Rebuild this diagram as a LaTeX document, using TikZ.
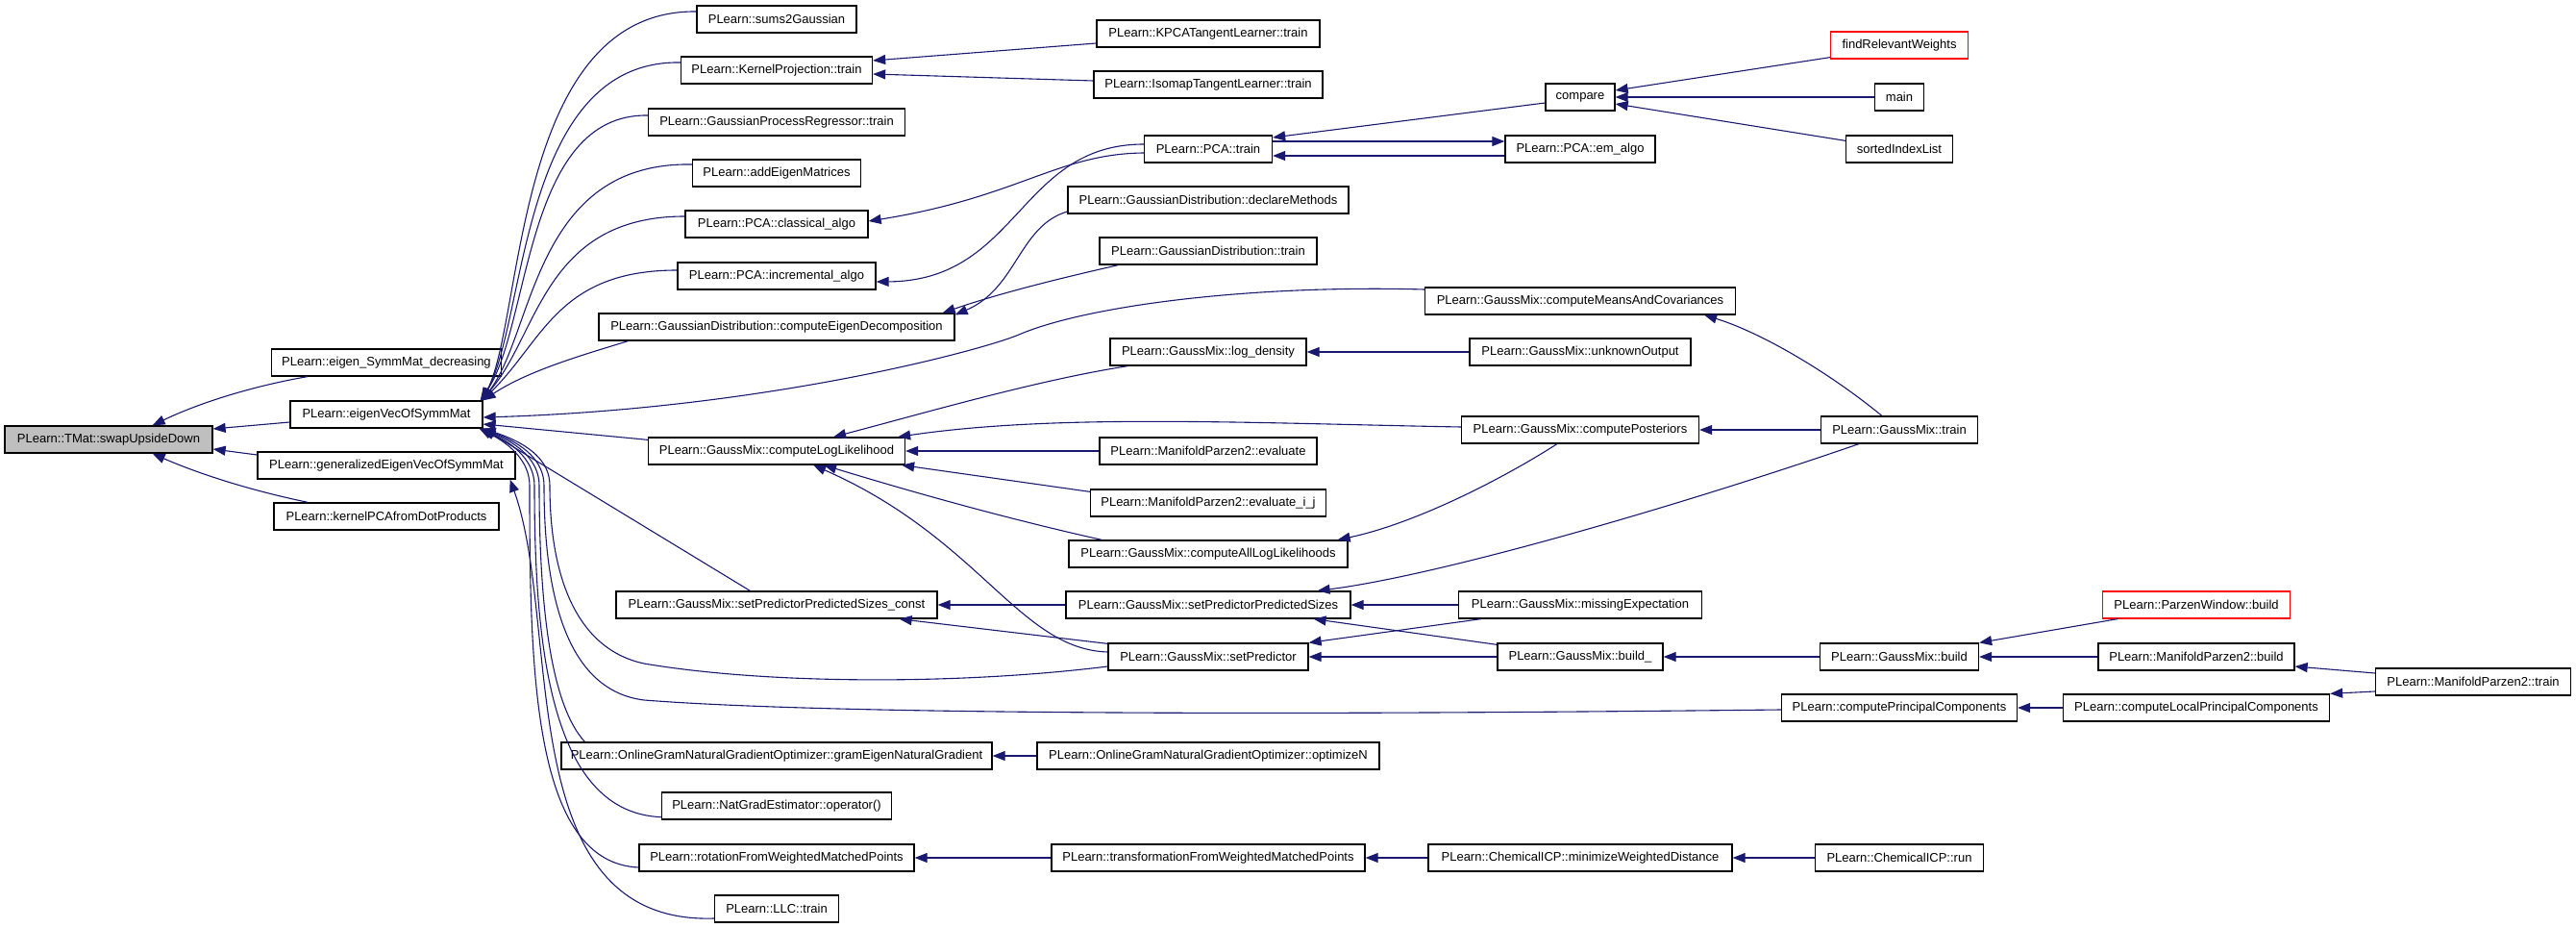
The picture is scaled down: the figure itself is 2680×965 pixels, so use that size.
\documentclass[tikz,border=0pt]{standalone}
\usepackage{fontspec}
\setmainfont{Liberation Sans}
\usetikzlibrary{arrows.meta,calc}
\definecolor{edgeblue}{RGB}{25,25,112}
\definecolor{rootgray}{RGB}{191,191,191}
\begin{document}
\begin{tikzpicture}[x=1pt,y=-1pt,
  box/.style={draw=black, line width=1.3pt, minimum height=28pt, inner xsep=4pt, inner ysep=0pt, fill=white, font=\fontsize{13}{15}\selectfont},
  mw/.style={minimum width=#1},
  redbox/.style={box, draw=red},
  rootbox/.style={box, fill=rootgray},
  edge/.style={draw=edgeblue, line width=1.1pt, -{Triangle[length=13pt,width=10pt]}}]
\useasboundingbox (0,0) rectangle (2680,965);

% column A/B
\node[rootbox, mw=216] (swap) at (113,457) {PLearn::TMat::swapUpsideDown};
\node[box, mw=239] (eigSD) at (402,377) {PLearn::eigen\_SymmMat\_decreasing};
\node[box, mw=200] (eigVec) at (402,431) {PLearn::eigenVecOfSymmMat};
\node[box, mw=268] (gen) at (402,484) {PLearn::generalizedEigenVecOfSymmMat};
\node[box, mw=234] (kpca) at (402,537) {PLearn::kernelPCAfromDotProducts};

% column C
\node[box, mw=166] (sums2) at (808,20) {PLearn::sums2Gaussian};
\node[box, mw=199] (kproj) at (808,73) {PLearn::KernelProjection::train};
\node[box, mw=267] (gpr) at (808,127) {PLearn::GaussianProcessRegressor::train};
\node[box, mw=175] (addEig) at (808,180) {PLearn::addEigenMatrices};
\node[box, mw=190] (classical) at (808,233) {PLearn::PCA::classical\_algo};
\node[box, mw=206] (incr) at (808,287) {PLearn::PCA::incremental\_algo};
\node[box, mw=370] (ced) at (808,340) {PLearn::GaussianDistribution::computeEigenDecomposition};
\node[box, mw=267] (cll) at (808,469) {PLearn::GaussMix::computeLogLikelihood};
\node[box, mw=334] (sppsc) at (808,629) {PLearn::GaussMix::setPredictorPredictedSizes\_const};
\node[box, mw=448] (gram) at (808,786) {PLearn::OnlineGramNaturalGradientOptimizer::gramEigenNaturalGradient};
\node[box, mw=239] (natgrad) at (808,838) {PLearn::NatGradEstimator::operator()};
\node[box, mw=286] (rot) at (808,892) {PLearn::rotationFromWeightedMatchedPoints};
\node[box, mw=129] (llc) at (808,945) {PLearn::LLC::train};

% column D
\node[box, mw=232] (kpcat) at (1257,35) {PLearn::KPCATangentLearner::train};
\node[box, mw=238] (iso) at (1257,88) {PLearn::IsomapTangentLearner::train};
\node[box, mw=133] (pcatrain) at (1257,155) {PLearn::PCA::train};
\node[box, mw=292] (declM) at (1257,208) {PLearn::GaussianDistribution::declareMethods};
\node[box, mw=226] (gdtrain) at (1257,261) {PLearn::GaussianDistribution::train};
\node[box, mw=204] (logd) at (1257,366) {PLearn::GaussMix::log\_density};
\node[box, mw=226] (eval) at (1257,469) {PLearn::ManifoldParzen2::evaluate};
\node[box, mw=245] (evalij) at (1257,523) {PLearn::ManifoldParzen2::evaluate\_i\_j};
\node[box, mw=290] (call) at (1257,576) {PLearn::GaussMix::computeAllLogLikelihoods};
\node[box, mw=296] (spps) at (1257,629) {PLearn::GaussMix::setPredictorPredictedSizes};
\node[box, mw=208] (setpred) at (1257,683) {PLearn::GaussMix::setPredictor};
\node[box, mw=356] (optN) at (1257,786) {PLearn::OnlineGramNaturalGradientOptimizer::optimizeN};
\node[box, mw=326] (trans) at (1257,892) {PLearn::transformationFromWeightedMatchedPoints};

% column E
\node[box, mw=72] (compare) at (1644,101) {compare};
\node[box, mw=156] (emalgo) at (1644,155) {PLearn::PCA::em\_algo};
\node[box, mw=323] (cmac) at (1644,313) {PLearn::GaussMix::computeMeansAndCovariances};
\node[box, mw=230] (unk) at (1644,366) {PLearn::GaussMix::unknownOutput};
\node[box, mw=247] (post) at (1644,447) {PLearn::GaussMix::computePosteriors};
\node[box, mw=253] (missE) at (1644,629) {PLearn::GaussMix::missingExpectation};
\node[box, mw=172] (bld) at (1644,683) {PLearn::GaussMix::build\_};
\node[box, mw=316] (minWD) at (1644,892) {PLearn::ChemicalICP::minimizeWeightedDistance};

% column F
\node[redbox, mw=143] (findRW) at (1976,47) {findRelevantWeights};
\node[box, mw=51] (main) at (1976,101) {main};
\node[box, mw=111] (sortIL) at (1976,155) {sortedIndexList};
\node[box, mw=163] (gmtrain) at (1976,447) {PLearn::GaussMix::train};
\node[box, mw=165] (gmbuild) at (1976,683) {PLearn::GaussMix::build};
\node[box, mw=245] (cpc) at (1976,736) {PLearn::computePrincipalComponents};
\node[box, mw=175] (chemrun) at (1976,892) {PLearn::ChemicalICP::run};

% column G/H
\node[redbox, mw=195] (pwbuild) at (2285,629) {PLearn::ParzenWindow::build};
\node[box, mw=204] (mp2build) at (2285,683) {PLearn::ManifoldParzen2::build};
\node[box, mw=277] (clpc) at (2285,736) {PLearn::computeLocalPrincipalComponents};
\node[box, mw=203] (mp2train) at (2573,709) {PLearn::ManifoldParzen2::train};

% ---- edges into swapUpsideDown
\draw[edge] ($(eigSD.south west)+(38,0)$) .. controls (260,402) and (205,420) .. ($(swap.north east)+(-63,0)$);
\draw[edge] ($(eigVec.west)+(0,8)$) -- ($(swap.east)+(0,-11)$);
\draw[edge] ($(gen.west)+(0,-11)$) -- ($(swap.east)+(0,10)$);
\draw[edge] ($(kpca.north west)+(36,0)$) .. controls (260,510) and (205,492) .. ($(swap.south east)+(-63,0)$);

% ---- top fan into eigenVecOfSymmMat
\draw[edge] ($(sums2.west)+(0,-8)$) .. controls (535,10) and (545,330) .. ($(eigVec.north east)+(-1,0)$);
\draw[edge] ($(kproj.west)+(0,-8)$) .. controls (540,62) and (548,335) .. ($(eigVec.north east)+(-2,0)$);
\draw[edge] ($(gpr.west)+(0,-7)$) .. controls (545,118) and (552,340) .. ($(eigVec.north east)+(-3,0)$);
\draw[edge] ($(addEig.west)+(0,-9)$) .. controls (555,168) and (556,345) .. ($(eigVec.north east)+(-1,0)$);
\draw[edge] ($(classical.west)+(0,-8)$) .. controls (565,225) and (560,350) .. ($(eigVec.north east)+(-2,0)$);
\draw[edge] ($(incr.west)+(0,-6)$) .. controls (580,281) and (565,355) .. ($(eigVec.north east)+(-1,0)$);
\draw[edge] ($(ced.south west)+(31,0)$) .. controls (610,368) and (550,385) .. (eigVec.north east);

% ---- from the right into eigenVecOfSymmMat
\draw[edge] ($(cmac.west)+(0,-12)$) .. controls (1300,296) and (1130,318) .. (1060,348)
  .. controls (1025,363) and (800,425) .. ($(eigVec.east)+(0,3)$);
\draw[edge] ($(cll.north west)+(0,3)$) -- ($(eigVec.east)+(0,10)$);

% ---- bottom fan into eigenVecOfSymmMat
\draw[edge] ($(sppsc.north west)+(140,0)$) -- (eigVec.south east);
\draw[edge] ($(setpred.west)+(0,10)$) .. controls (1000,712) and (800,712) .. (670,690)
  .. controls (600,675) and (572,600) .. (572,505)
  .. controls (572,480) and (552,462) .. (eigVec.south east);
\draw[edge] ($(cpc.west)+(0,2)$) .. controls (1500,742) and (900,746) .. (670,728)
  .. controls (590,718) and (566,620) .. (566,505)
  .. controls (566,480) and (546,462) .. ($(eigVec.south east)+(-1,0)$);
\draw[edge] ($(gram.north west)+(25,0)$) .. controls (575,735) and (561,640) .. (561,505)
  .. controls (561,480) and (541,462) .. ($(eigVec.south east)+(-2,0)$);
\draw[edge] ($(natgrad.south west)+(0,-3)$) .. controls (575,845) and (556,680) .. (556,505)
  .. controls (556,480) and (536,462) .. ($(eigVec.south east)+(-3,0)$);
\draw[edge] ($(rot.west)+(0,10)$) .. controls (555,897) and (551,700) .. (551,505)
  .. controls (551,480) and (531,462) .. ($(eigVec.south east)+(-4,0)$);
\draw[edge] ($(llc.west)+(0,10)$) .. controls (530,962) and (585,650) .. ($(gen.south east)+(-6,0)$);

% ---- KernelProjection, PCA
\draw[edge] ($(kpcat.west)+(0,10)$) -- ($(kproj.east)+(0,-10)$);
\draw[edge] ($(iso.west)+(0,-4)$) -- ($(kproj.east)+(0,4)$);
\draw[edge] ($(pcatrain.west)+(0,4)$) .. controls (1100,160) and (1060,205) .. ($(classical.east)+(0,-3)$);
\draw[edge] ($(pcatrain.west)+(0,-5)$) .. controls (1060,150) and (1060,292) .. ($(incr.east)+(0,6)$);
\draw[edge] ($(compare.west)+(0,6)$) -- ($(pcatrain.east)+(0,-12)$);
\draw[edge] ($(pcatrain.east)+(0,-8)$) -- ($(emalgo.west)+(0,-8)$);
\draw[edge] ($(emalgo.west)+(0,7)$) -- ($(pcatrain.east)+(0,7)$);
\draw[edge] ($(findRW.south west)+(0,-2)$) -- ($(compare.east)+(0,-7)$);
\draw[edge] (main.west) -- (compare.east);
\draw[edge] ($(sortIL.north west)+(0,6)$) -- ($(compare.east)+(0,7)$);

% ---- GaussianDistribution
\draw[edge] ($(declM.west)+(0,12)$) .. controls (1060,235) and (1058,300) .. ($(ced.north east)+(0,2)$);
\draw[edge] ($(gdtrain.south west)+(20,0)$) .. controls (1100,290) and (1040,305) .. ($(ced.north east)+(-13,0)$);

% ---- computeLogLikelihood
\draw[edge] ($(logd.south west)+(19,0)$) .. controls (1080,395) and (960,430) .. ($(cll.north east)+(-75,0)$);
\draw[edge] ($(post.west)+(0,-3)$) .. controls (1300,440) and (1100,430) .. ($(cll.north east)+(-8,0)$);
\draw[edge] (eval.west) -- (cll.east);
\draw[edge] ($(evalij.north west)+(0,3)$) -- ($(cll.south east)+(-4,0)$);
\draw[edge] ($(call.north west)+(35,0)$) .. controls (1050,540) and (950,512) .. ($(cll.south east)+(-85,0)$);
\draw[edge] ($(setpred.west)+(0,-5)$) .. controls (1060,675) and (1020,560) .. ($(cll.south east)+(-96,0)$);

% ---- GaussMix
\draw[edge] (unk.west) -- (logd.east);
\draw[edge] ($(gmtrain.north west)+(64,0)$) .. controls (1900,385) and (1830,345) .. ($(cmac.south east)+(-33,0)$);
\draw[edge] (gmtrain.west) -- (post.east);
\draw[edge] ($(post.south west)+(100,0)$) .. controls (1560,500) and (1470,545) .. ($(call.north east)+(-11,0)$);
\draw[edge] ($(gmtrain.south west)+(40,0)$) .. controls (1750,525) and (1500,598) .. ($(spps.north east)+(-35,0)$);
\draw[edge] (missE.west) -- (spps.east);
\draw[edge] ($(bld.north west)+(0,2)$) -- ($(spps.south east)+(-39,0)$);
\draw[edge] (spps.west) -- (sppsc.east);
\draw[edge] ($(setpred.north west)+(0,1)$) -- ($(sppsc.south east)+(-40,0)$);
\draw[edge] ($(missE.south west)+(24,0)$) -- (setpred.north east);
\draw[edge] (bld.west) -- (setpred.east);
\draw[edge] (gmbuild.west) -- (bld.east);
\draw[edge] ($(pwbuild.south west)+(16,0)$) -- (gmbuild.north east);
\draw[edge] (mp2build.west) -- (gmbuild.east);
\draw[edge] ($(mp2train.west)+(0,-9)$) -- ($(mp2build.east)+(0,10)$);
\draw[edge] ($(mp2train.west)+(0,10)$) -- (clpc.north east);
\draw[edge] (clpc.west) -- (cpc.east);

% ---- bottom chains
\draw[edge] (optN.west) -- (gram.east);
\draw[edge] (trans.west) -- (rot.east);
\draw[edge] (minWD.west) -- (trans.east);
\draw[edge] (chemrun.west) -- (minWD.east);
\end{tikzpicture}
\end{document}
